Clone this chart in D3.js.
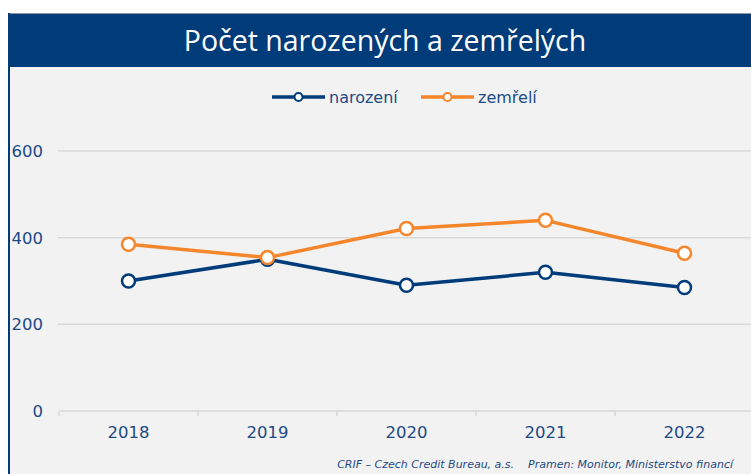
<!DOCTYPE html>
<html>
<head>
<meta charset="utf-8">
<script src="https://cdn.jsdelivr.net/npm/d3@7"></script>
<style>
  body { margin: 0; background: #fff; }
  svg { display: block; }
</style>
</head>
<body>
<div id="chart"></div>
<script>
const width = 751;
const height = 474;

// data
const years = ["2018", "2019", "2020", "2021", "2022"];
const narozeni = [300, 350, 290, 320, 285];
const zemreli = [385, 354, 421, 440, 364];
const yTicks = [0, 200, 400, 600];
const seriesNames = ["narození", "zemřelí"];

const blue = "#003b7a";
const orange = "#f5862b";
const textBlue = "#1d4a86";
const font = "'DejaVu Sans', Verdana, sans-serif";

const svg = d3.select("#chart")
    .append("svg")
    .attr("width", width)
    .attr("height", height);

// panel + header
svg.append("rect")
    .attr("x", 8).attr("y", 13)
    .attr("width", width - 8).attr("height", height - 13)
    .attr("fill", "#f2f2f2");
svg.append("rect")
    .attr("x", 8).attr("y", 13)
    .attr("width", width - 8).attr("height", 54)
    .attr("fill", blue);
svg.append("line")
    .attr("x1", 8).attr("x2", width).attr("y1", 13.5).attr("y2", 13.5)
    .attr("stroke", "#8a94a6").attr("stroke-width", 1);
svg.append("rect")
    .attr("x", 8).attr("y", 13)
    .attr("width", 2).attr("height", height - 13)
    .attr("fill", blue);

svg.append("text")
    .attr("x", 385).attr("y", 51)
    .attr("text-anchor", "middle")
    .attr("fill", "#fff")
    .style("font-family", "'Open Sans', sans-serif")
    .style("font-size", "28.5px")
    .text("Počet narozených a zemřelých");

const x = d3.scaleBand()
    .domain(years)
    .range([59, 754]);

const y = d3.scaleLinear()
    .domain([0, 600])
    .range([411, 151]);

// gridlines
svg.append("g")
    .selectAll("line")
    .data(yTicks.filter(d => d > 0))
    .enter()
    .append("line")
    .attr("x1", 58).attr("x2", width)
    .attr("y1", d => y(d)).attr("y2", d => y(d))
    .attr("stroke", "#d9d9d9")
    .attr("stroke-width", 1.5);

// y labels
svg.append("g")
    .selectAll("text")
    .data(yTicks)
    .enter()
    .append("text")
    .attr("x", 43)
    .attr("y", d => y(d) + 6)
    .attr("text-anchor", "end")
    .attr("fill", textBlue)
    .style("font-family", font)
    .style("font-size", "16.5px")
    .text(d => d);

// x axis baseline with category boundary ticks
const xAxis = d3.axisBottom(x).tickSize(0).tickPadding(15);
const gx = svg.append("g")
    .attr("transform", `translate(0,${y(0)})`)
    .call(xAxis);
gx.select(".domain").remove();
gx.selectAll("text")
    .attr("fill", textBlue)
    .style("font-family", font)
    .style("font-size", "16.5px");
svg.append("line")
    .attr("x1", 59).attr("x2", width)
    .attr("y1", y(0)).attr("y2", y(0))
    .attr("stroke", "#d9d9d9").attr("stroke-width", 1.5);
svg.append("g")
    .selectAll("line")
    .data(years)
    .enter()
    .append("line")
    .attr("x1", d => x(d)).attr("x2", d => x(d))
    .attr("y1", y(0)).attr("y2", y(0) + 5)
    .attr("stroke", "#d9d9d9").attr("stroke-width", 1.5);

const line = d3.line()
    .x((d, i) => x(years[i]) + x.bandwidth() / 2)
    .y(d => y(d));

function drawSeries(values, color) {
    svg.append("path")
        .datum(values)
        .attr("d", line)
        .attr("fill", "none")
        .attr("stroke", color)
        .attr("stroke-width", 3.5)
        .attr("stroke-linejoin", "round");
    svg.append("g")
        .selectAll("circle")
        .data(values)
        .enter()
        .append("circle")
        .attr("cx", (d, i) => x(years[i]) + x.bandwidth() / 2)
        .attr("cy", d => y(d))
        .attr("r", 6.5)
        .attr("fill", "#fff")
        .attr("stroke", color)
        .attr("stroke-width", 2.5);
}

drawSeries(narozeni, blue);
drawSeries(zemreli, orange);

// legend
const legendItems = [
    { name: seriesNames[0], color: blue, x: 272 },
    { name: seriesNames[1], color: orange, x: 421 }
];
const legend = svg.append("g")
    .selectAll("g")
    .data(legendItems)
    .enter()
    .append("g")
    .attr("transform", d => `translate(${d.x},97)`);
legend.append("line")
    .attr("x1", 0).attr("x2", 53)
    .attr("stroke", d => d.color)
    .attr("stroke-width", 3.5);
legend.append("circle")
    .attr("cx", 26.5).attr("r", 4)
    .attr("fill", "#fff")
    .attr("stroke", d => d.color)
    .attr("stroke-width", 2);
legend.append("text")
    .attr("x", 57).attr("y", 6)
    .attr("fill", textBlue)
    .style("font-family", font)
    .style("font-size", "16px")
    .text(d => d.name);

// footer
svg.append("text")
    .attr("x", 733).attr("y", 468)
    .attr("text-anchor", "end")
    .attr("fill", textBlue)
    .style("font-family", font)
    .style("font-size", "11px")
    .style("font-style", "italic")
    .attr("xml:space", "preserve")
    .text("CRIF – Czech Credit Bureau, a.s.    Pramen: Monitor, Ministerstvo financí");
</script>
</body>
</html>
